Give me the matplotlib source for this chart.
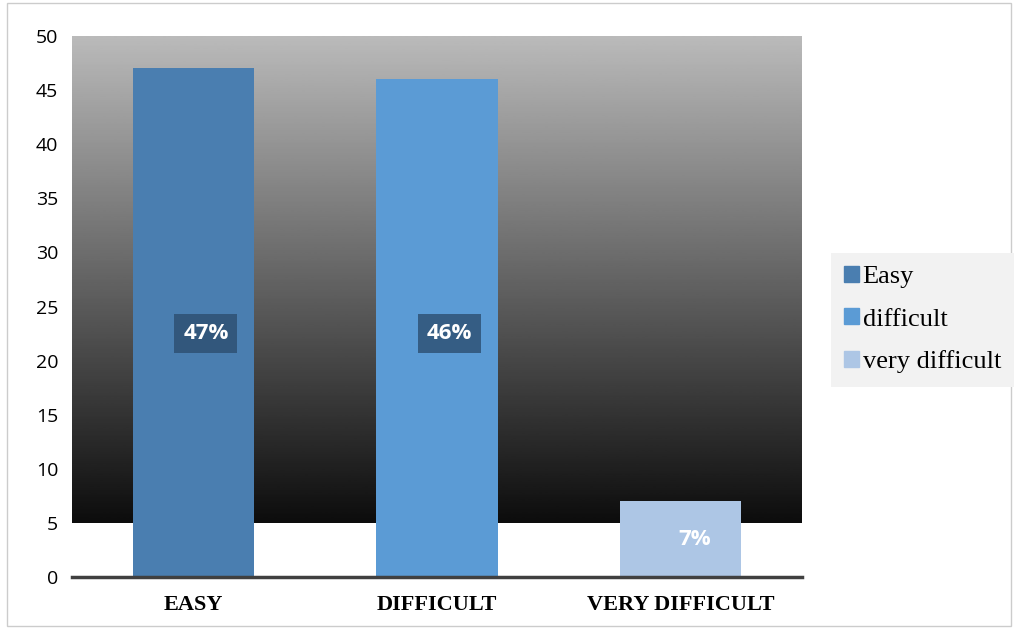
import numpy as np
import matplotlib.pyplot as plt
from matplotlib.patches import Patch, Rectangle

categories = ['EASY', 'DIFFICULT', 'VERY DIFFICULT']
legend_names = ['Easy', 'difficult', 'very difficult']
values = [47, 46, 7]
labels = ['47%', '46%', '7%']
colors = ['#4a7eb0', '#5b9bd5', '#adc6e5']

fig = plt.figure(figsize=(10.18, 6.29), dpi=100)
ax = fig.add_axes([72 / 1018, 1 - 577 / 629, 730 / 1018, 541 / 629])

# gray-to-black backdrop from 5 up to 50
grad = np.linspace(0.05, 0.73, 256).reshape(-1, 1)
ax.imshow(grad, cmap='gray', vmin=0, vmax=1, aspect='auto', origin='lower',
          extent=[-0.5, 2.5, 5, 50], zorder=0)

x = np.arange(len(categories))
ax.bar(x, values, width=0.5, color=colors, zorder=2)

box_pos = [22.5, 22.5, 3.5]
for i, (lab, yv) in enumerate(zip(labels, box_pos)):
    if i < 2:
        ax.text(x[i] + 0.05, yv, lab, ha='center', va='center', color='white', fontsize=16,
                fontweight='bold', family='Open Sans', zorder=4,
                bbox=dict(boxstyle='square,pad=0.4', fc='#2c4e70', ec='none', alpha=0.8))
    else:
        ax.text(x[i] + 0.06, yv, lab, ha='center', va='center', color='white', fontsize=16,
                fontweight='bold', family='Open Sans', zorder=4)

ax.set_xlim(-0.5, 2.5)
ax.set_ylim(0, 50)
ax.set_yticks(range(0, 51, 5))
ax.set_xticks(x)
ax.set_xticklabels(categories, family='Liberation Serif', fontweight='bold', fontsize=16)
ax.tick_params(axis='y', length=0, labelsize=14, pad=10)
ax.tick_params(axis='x', length=0, pad=13)
for t in ax.get_yticklabels():
    t.set_family('Open Sans')
for s in ['top', 'right', 'left']:
    ax.spines[s].set_visible(False)
ax.spines['bottom'].set_color('#404040')
ax.spines['bottom'].set_linewidth(2.5)

handles = [Patch(color=c) for c in colors]
leg = fig.legend(handles, legend_names, loc='upper left', bbox_to_anchor=(831 / 1018, 1 - 253 / 629),
                 prop={'family': 'Liberation Serif', 'size': 19}, frameon=True, fancybox=False,
                 handlelength=0.55, handleheight=0.55, handletextpad=0.15, labelspacing=0.75,
                 borderpad=0.5, borderaxespad=0)
leg.get_frame().set_facecolor('#f2f2f2')
leg.get_frame().set_edgecolor('none')
leg.get_frame().set_alpha(1)

fig.patches.append(Rectangle((7 / 1018, 0.005), 1004 / 1018, 0.99, transform=fig.transFigure,
                             fill=False, ec='#cccccc', lw=1))

fig.savefig('out.png', dpi=100)
